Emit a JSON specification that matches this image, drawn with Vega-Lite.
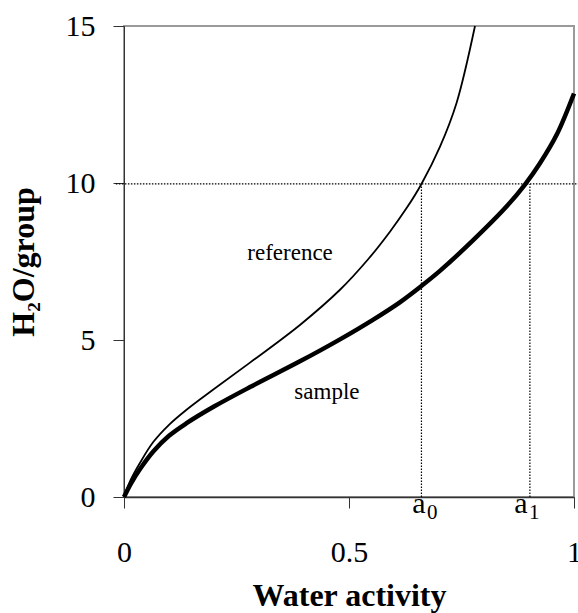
{
  "$schema": "https://vega.github.io/schema/vega-lite/v6.json",
  "width": 450,
  "height": 471,
  "autosize": {"type": "none"},
  "padding": {"left": 124, "top": 26, "right": 4, "bottom": 116},
  "background": "white",
  "config": {
    "view": {"stroke": "#9a9a9a", "strokeWidth": 2},
    "axis": {
      "labelFont": "Times New Roman, Liberation Serif, serif",
      "labelFontSize": 30,
      "labelColor": "black",
      "titleFont": "Times New Roman, Liberation Serif, serif",
      "titleFontSize": 32,
      "titleFontWeight": "bold",
      "titleColor": "black",
      "grid": false,
      "domainColor": "#333",
      "tickColor": "#333",
      "tickSize": 11,
      "labelFlush": false,
      "labelOverlap": false
    }
  },
  "datasets": {
    "curves": [
      {"aw": 0, "h2o": 0, "series": "reference"},
      {"aw": 0.015, "h2o": 0.55, "series": "reference"},
      {"aw": 0.036, "h2o": 1.1, "series": "reference"},
      {"aw": 0.065, "h2o": 1.75, "series": "reference"},
      {"aw": 0.1, "h2o": 2.3, "series": "reference"},
      {"aw": 0.139, "h2o": 2.78, "series": "reference"},
      {"aw": 0.2, "h2o": 3.44, "series": "reference"},
      {"aw": 0.28, "h2o": 4.28, "series": "reference"},
      {"aw": 0.391, "h2o": 5.48, "series": "reference"},
      {"aw": 0.48, "h2o": 6.6, "series": "reference"},
      {"aw": 0.543, "h2o": 7.58, "series": "reference"},
      {"aw": 0.591, "h2o": 8.45, "series": "reference"},
      {"aw": 0.628, "h2o": 9.2, "series": "reference"},
      {"aw": 0.661, "h2o": 9.97, "series": "reference"},
      {"aw": 0.702, "h2o": 11.15, "series": "reference"},
      {"aw": 0.739, "h2o": 12.55, "series": "reference"},
      {"aw": 0.78, "h2o": 15.0, "series": "reference"},
      {"aw": 0, "h2o": 0, "series": "sample"},
      {"aw": 0.015, "h2o": 0.42, "series": "sample"},
      {"aw": 0.036, "h2o": 0.9, "series": "sample"},
      {"aw": 0.065, "h2o": 1.45, "series": "sample"},
      {"aw": 0.1, "h2o": 1.95, "series": "sample"},
      {"aw": 0.139, "h2o": 2.35, "series": "sample"},
      {"aw": 0.2, "h2o": 2.88, "series": "sample"},
      {"aw": 0.28, "h2o": 3.5, "series": "sample"},
      {"aw": 0.391, "h2o": 4.32, "series": "sample"},
      {"aw": 0.48, "h2o": 5.02, "series": "sample"},
      {"aw": 0.554, "h2o": 5.65, "series": "sample"},
      {"aw": 0.613, "h2o": 6.2, "series": "sample"},
      {"aw": 0.661, "h2o": 6.72, "series": "sample"},
      {"aw": 0.702, "h2o": 7.2, "series": "sample"},
      {"aw": 0.776, "h2o": 8.18, "series": "sample"},
      {"aw": 0.85, "h2o": 9.25, "series": "sample"},
      {"aw": 0.891, "h2o": 9.95, "series": "sample"},
      {"aw": 0.924, "h2o": 10.62, "series": "sample"},
      {"aw": 0.962, "h2o": 11.55, "series": "sample"},
      {"aw": 1.0, "h2o": 12.85, "series": "sample"}
    ],
    "hline": [{"x": -0.018, "x2": 1.01, "y": 9.97}],
    "vlines": [
      {"x": 0.661, "y": 0, "y2": 9.97},
      {"x": 0.902, "y": 0, "y2": 9.97}
    ],
    "curveLabels": [
      {"x": 0.369, "y": 7.55, "text": "reference"},
      {"x": 0.451, "y": 3.12, "text": "sample"}
    ],
    "aLabels": [
      {"x": 0.669, "y": 0, "main": "a", "sub": "0"},
      {"x": 0.8956, "y": 0, "main": "a", "sub": "1"}
    ]
  },
  "layer": [
    {
      "data": {"name": "hline"},
      "mark": {"type": "rule", "color": "black", "strokeWidth": 1.2, "strokeDash": [1.5, 1.5]},
      "encoding": {
        "x": {"field": "x", "type": "quantitative", "scale": {"domain": [0, 1], "nice": false}, "axis": {
          "values": [0, 0.5, 1], "format": "~g", "title": "Water activity",
          "labelBaseline": "alphabetic", "labelPadding": 53, "titleBaseline": "alphabetic", "titleY": 108,
          "domainWidth": 1.5
        }},
        "x2": {"field": "x2"},
        "y": {"field": "y", "type": "quantitative", "scale": {"domain": [0, 15], "nice": false}, "axis": {
          "values": [0, 5, 10, 15], "title": "H₂O/group", "labelPadding": 18,
          "titleX": -91, "titleY": 235.5, "titleAngle": 270, "titleAlign": "center", "titleBaseline": "alphabetic"
        }}
      }
    },
    {
      "data": {"name": "vlines"},
      "mark": {"type": "rule", "color": "black", "strokeWidth": 1.2, "strokeDash": [1.5, 1.5]},
      "encoding": {
        "x": {"field": "x", "type": "quantitative"},
        "y": {"field": "y", "type": "quantitative"},
        "y2": {"field": "y2"}
      }
    },
    {
      "data": {"name": "curves"},
      "mark": {"type": "line", "color": "black", "interpolate": "catmull-rom"},
      "encoding": {
        "x": {"field": "aw", "type": "quantitative"},
        "y": {"field": "h2o", "type": "quantitative"},
        "detail": {"field": "series"},
        "strokeWidth": {"field": "series", "type": "nominal", "scale": {"domain": ["reference", "sample"], "range": [1.8, 4.5]}, "legend": null}
      }
    },
    {
      "data": {"name": "curveLabels"},
      "mark": {"type": "text", "font": "Times New Roman, Liberation Serif, serif", "fontSize": 23, "color": "black", "align": "center", "baseline": "alphabetic"},
      "encoding": {
        "x": {"field": "x", "type": "quantitative"},
        "y": {"field": "y", "type": "quantitative"},
        "text": {"field": "text"}
      }
    },
    {
      "data": {"name": "aLabels"},
      "mark": {"type": "text", "font": "Times New Roman, Liberation Serif, serif", "fontSize": 30, "color": "black", "align": "right", "baseline": "alphabetic", "dx": 0.5, "dy": 16},
      "encoding": {
        "x": {"field": "x", "type": "quantitative"},
        "y": {"field": "y", "type": "quantitative"},
        "text": {"field": "main"}
      }
    },
    {
      "data": {"name": "aLabels"},
      "mark": {"type": "text", "font": "Times New Roman, Liberation Serif, serif", "fontSize": 21, "color": "black", "align": "left", "baseline": "alphabetic", "dx": 2, "dy": 22},
      "encoding": {
        "x": {"field": "x", "type": "quantitative"},
        "y": {"field": "y", "type": "quantitative"},
        "text": {"field": "sub"}
      }
    }
  ]
}
